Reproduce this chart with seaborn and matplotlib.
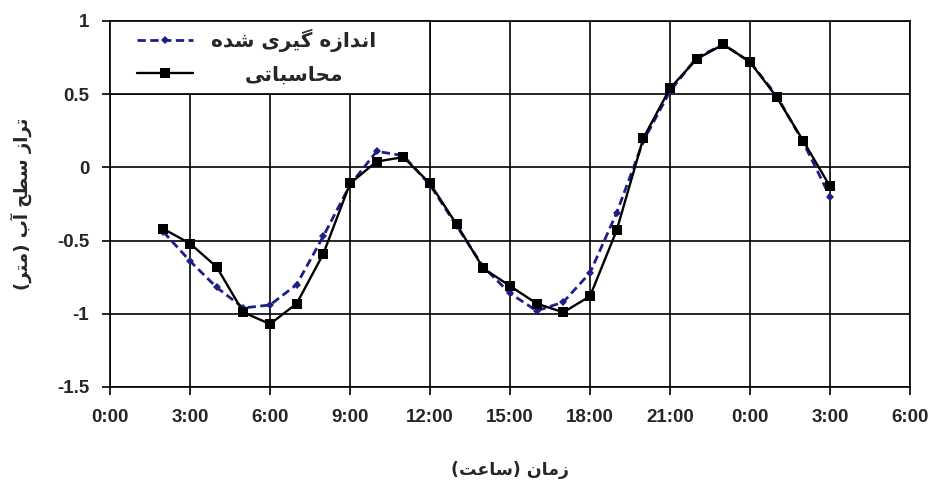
import matplotlib
matplotlib.use('Agg')
import matplotlib.pyplot as plt
from matplotlib.patches import Rectangle
from matplotlib.transforms import Affine2D
import seaborn as sns
import pandas as pd
import numpy as np

# hours since 0:00 of the first day
hours = list(range(2, 28))
measured = [-0.44, -0.64, -0.82, -0.96, -0.94, -0.80, -0.47, -0.12, 0.11, 0.08,
            -0.12, -0.40, -0.68, -0.86, -0.98, -0.92, -0.72, -0.31, 0.18, 0.52,
            0.75, 0.84, 0.72, 0.49, 0.17, -0.20]
computed = [-0.42, -0.52, -0.68, -0.99, -1.07, -0.93, -0.59, -0.11, 0.04, 0.07,
            -0.11, -0.39, -0.69, -0.81, -0.93, -0.99, -0.88, -0.43, 0.20, 0.54,
            0.74, 0.84, 0.72, 0.48, 0.18, -0.13]

x_ticks = list(range(0, 31, 3))
x_tick_labels = ['0:00', '3:00', '6:00', '9:00', '12:00', '15:00', '18:00',
                 '21:00', '0:00', '3:00', '6:00']
y_ticks = [-1.5, -1, -0.5, 0, 0.5, 1]
y_tick_labels = ['-1.5', '-1', '-0.5', '0', '0.5', '1']

label_measured = 'اندازه گیری شده'
label_computed = 'محاسباتی'
x_title = 'زمان (ساعت)'
y_title = 'تراز سطح آب (متر)'

# matplotlib has no arabic shaping, so map letters to presentation forms
# (isolated, final, initial, medial) and reverse for display
FORMS = {
    'ا': ('\uFE8D', '\uFE8E', None, None),
    'آ': ('\uFE81', '\uFE82', None, None),
    'د': ('\uFEA9', '\uFEAA', None, None),
    'ر': ('\uFEAD', '\uFEAE', None, None),
    'ز': ('\uFEAF', '\uFEB0', None, None),
    'ب': ('\uFE8F', '\uFE90', '\uFE91', '\uFE92'),
    'ت': ('\uFE95', '\uFE96', '\uFE97', '\uFE98'),
    'ح': ('\uFEA1', '\uFEA2', '\uFEA3', '\uFEA4'),
    'س': ('\uFEB1', '\uFEB2', '\uFEB3', '\uFEB4'),
    'ش': ('\uFEB5', '\uFEB6', '\uFEB7', '\uFEB8'),
    'ط': ('\uFEC1', '\uFEC2', '\uFEC3', '\uFEC4'),
    'ع': ('\uFEC9', '\uFECA', '\uFECB', '\uFECC'),
    'م': ('\uFEE1', '\uFEE2', '\uFEE3', '\uFEE4'),
    'ن': ('\uFEE5', '\uFEE6', '\uFEE7', '\uFEE8'),
    'ه': ('\uFEE9', '\uFEEA', '\uFEEB', '\uFEEC'),
    'ی': ('\uFBFC', '\uFBFD', '\uFBFE', '\uFBFF'),
    'گ': ('\uFB92', '\uFB93', '\uFB94', '\uFB95'),
}


def shape(text):
    out = []
    for i, ch in enumerate(text):
        if ch not in FORMS:
            out.append(ch)
            continue
        prev = text[i - 1] if i > 0 else ''
        nxt = text[i + 1] if i + 1 < len(text) else ''
        joins_prev = prev in FORMS and FORMS[prev][2] is not None
        joins_next = FORMS[ch][2] is not None and nxt in FORMS
        iso, fin, ini, med = FORMS[ch]
        if joins_prev and joins_next:
            out.append(med)
        elif joins_prev:
            out.append(fin)
        elif joins_next:
            out.append(ini)
        else:
            out.append(iso)
    mirror = {'(': ')', ')': '('}
    return ''.join(mirror.get(c, c) for c in reversed(out))


sns.set_style('ticks')
plt.rcParams['font.family'] = ['Liberation Sans', 'DejaVu Sans']

df = pd.DataFrame({'hour': hours, 'measured': measured, 'computed': computed})

fig = plt.figure(figsize=(9.34, 4.88), dpi=100)
ax = fig.add_axes([0.1178, 0.207, 0.8565, 0.750])

sns.lineplot(data=df, x='hour', y='measured', ax=ax, color='#1e1e88',
             linestyle=(0, (3.0, 1.6)), linewidth=2.0, marker='D', markersize=4.5,
             markeredgewidth=0, label=shape(label_measured), zorder=3)
sns.lineplot(data=df, x='hour', y='computed', ax=ax, color='black',
             linewidth=1.7, marker='s', markersize=7.5, markeredgewidth=0,
             label=shape(label_computed), zorder=4)

ax.set_xlim(0, 30)
ax.set_ylim(-1.5, 1)
ax.set_xticks(x_ticks)
ax.set_xticklabels(x_tick_labels, fontsize=13.5, fontweight='bold')
ax.set_yticks(y_ticks)
ax.set_yticklabels(y_tick_labels, fontsize=13.5, fontweight='bold')
ax.tick_params(axis='both', direction='out', length=6, width=1.2, color='black')
ax.tick_params(axis='x', pad=10)
ax.tick_params(axis='y', pad=9)
ax.grid(True, color='black', linewidth=1.2)
for side in ax.spines.values():
    side.set_color('black')
    side.set_linewidth(1.2)

ax.set_xlabel(shape(x_title), family=['DejaVu Sans'], fontweight='bold',
              fontsize=12.5, labelpad=25)
ax.set_ylabel(shape(y_title), family=['DejaVu Sans'], fontweight='bold',
              fontsize=13, labelpad=18)

# legend box covers the upper-left grid cells (0:00-12:00, 0.5-1)
ax.add_patch(Rectangle((0, 0.8), 0.4, 0.2, transform=ax.transAxes, facecolor='white',
                       edgecolor='black', linewidth=1.2, zorder=5, clip_on=False))
leg = ax.legend(loc='center', bbox_to_anchor=(0.183, 0.902), frameon=False,
                prop={'family': ['DejaVu Sans'], 'weight': 'bold', 'size': 14.5},
                handlelength=2.8, labelspacing=0.65, handletextpad=0.9,
                borderaxespad=0, borderpad=0)
leg.set_zorder(6)

# centre the two labels on each other, as in the original
fig.canvas.draw()
texts = leg.get_texts()
widths = [t.get_window_extent().width for t in texts]
for t, w in zip(texts, widths):
    t.set_transform(t.get_transform() + Affine2D().translate((max(widths) - w) / 2, 0))

fig.savefig('out.png', dpi=100)
